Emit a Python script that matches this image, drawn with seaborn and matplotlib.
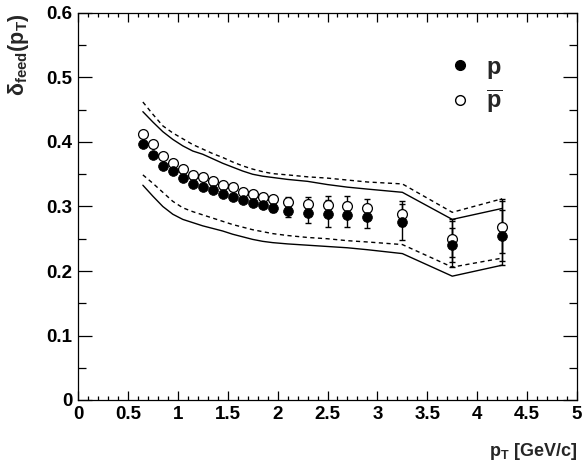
import matplotlib
matplotlib.use("Agg")
import matplotlib.pyplot as plt
import seaborn as sns
import numpy as np
import pandas as pd
from matplotlib.ticker import MultipleLocator, FuncFormatter
from matplotlib.lines import Line2D

# pT bin centres
pt = [0.65, 0.75, 0.85, 0.95, 1.05, 1.15, 1.25, 1.35, 1.45, 1.55, 1.65,
      1.75, 1.85, 1.95, 2.1, 2.3, 2.5, 2.7, 2.9, 3.25, 3.75, 4.25]

# delta_feed for protons (filled) and antiprotons (open)
p_val = [0.397, 0.380, 0.363, 0.355, 0.344, 0.335, 0.330, 0.326, 0.320, 0.315, 0.310,
         0.305, 0.302, 0.298, 0.293, 0.290, 0.289, 0.2875, 0.284, 0.276, 0.240, 0.255]
p_err = [0, 0, 0, 0, 0, 0, 0, 0, 0, 0, 0.003,
         0.004, 0.005, 0.006, 0.010, 0.016, 0.021, 0.020, 0.018, 0.028, 0.026, 0.040]
pbar_val = [0.413, 0.397, 0.379, 0.368, 0.358, 0.349, 0.345, 0.340, 0.334, 0.330, 0.323,
            0.319, 0.315, 0.312, 0.307, 0.304, 0.302, 0.301, 0.298, 0.289, 0.249, 0.268]
pbar_err = [0, 0, 0, 0, 0, 0, 0, 0, 0, 0, 0.003,
            0.004, 0.005, 0.005, 0.007, 0.010, 0.015, 0.015, 0.013, 0.020, 0.028, 0.040]

# systematic bands
up_dash = [0.462, 0.443, 0.425, 0.414, 0.405, 0.396, 0.389, 0.382, 0.376, 0.369, 0.363,
           0.358, 0.354, 0.351, 0.349, 0.346, 0.344, 0.341, 0.338, 0.335, 0.291, 0.312]
up_solid = [0.447, 0.431, 0.416, 0.404, 0.394, 0.386, 0.381, 0.374, 0.367, 0.361, 0.355,
            0.350, 0.347, 0.345, 0.342, 0.339, 0.334, 0.330, 0.327, 0.322, 0.280, 0.297]
lo_dash = [0.349, 0.336, 0.322, 0.308, 0.298, 0.292, 0.287, 0.282, 0.277, 0.272, 0.268,
           0.264, 0.261, 0.258, 0.255, 0.252, 0.250, 0.247, 0.245, 0.241, 0.206, 0.220]
lo_solid = [0.333, 0.316, 0.300, 0.288, 0.280, 0.275, 0.270, 0.266, 0.262, 0.257, 0.253,
            0.249, 0.246, 0.244, 0.242, 0.240, 0.238, 0.236, 0.233, 0.227, 0.192, 0.209]

# vertical band edges at the last bins
edge_x = [3.75, 4.25]
edge_lo = [0.206, 0.209]
edge_hi = [0.280, 0.312]

sns.set_theme(style="ticks")
plt.rcParams["font.family"] = ["Liberation Sans", "DejaVu Sans"]
plt.rcParams["font.weight"] = "bold"
plt.rcParams["mathtext.fontset"] = "custom"
plt.rcParams["mathtext.rm"] = "Liberation Sans:bold"
plt.rcParams["mathtext.it"] = "Liberation Sans:bold"
plt.rcParams["mathtext.bf"] = "Liberation Sans:bold"

df = pd.DataFrame({"pt": pt, "p": p_val, "pbar": pbar_val,
                   "up_dash": up_dash, "up_solid": up_solid,
                   "lo_dash": lo_dash, "lo_solid": lo_solid})

fig = plt.figure(figsize=(5.84, 4.70), dpi=100)
ax = fig.add_axes([78/584, 70/470, 499/584, 387/470])

for col in ["up_solid", "lo_solid"]:
    sns.lineplot(data=df, x="pt", y=col, ax=ax, color="black", lw=1.0)
for col in ["up_dash", "lo_dash"]:
    sns.lineplot(data=df, x="pt", y=col, ax=ax, color="black", lw=1.0, linestyle=(0, (3, 2.5)))

mid = [(a + b) / 2 for a, b in zip(edge_lo, edge_hi)]
half = [(b - a) / 2 for a, b in zip(edge_lo, edge_hi)]
ax.errorbar(edge_x, mid, yerr=half, fmt="none", ecolor="black", elinewidth=1.0, capsize=2)

ax.errorbar(pt, pbar_val, yerr=pbar_err, fmt="none", ecolor="black", elinewidth=1.0, capsize=2)
ax.errorbar(pt, p_val, yerr=p_err, fmt="none", ecolor="black", elinewidth=1.0, capsize=2)

sns.scatterplot(data=df, x="pt", y="pbar", ax=ax, marker="o", s=50,
                facecolor="white", edgecolor="black", linewidth=0.9, zorder=5)
sns.scatterplot(data=df, x="pt", y="p", ax=ax, marker="o", s=50,
                color="black", edgecolor="black", linewidth=0.5, zorder=6)

ax.set_xlim(0, 5)
ax.set_ylim(0, 0.6)
ax.xaxis.set_major_locator(MultipleLocator(0.5))
ax.xaxis.set_minor_locator(MultipleLocator(0.1))
ax.yaxis.set_major_locator(MultipleLocator(0.1))
ax.yaxis.set_minor_locator(MultipleLocator(0.05))
fmt = FuncFormatter(lambda v, pos: "%g" % round(v, 2))
ax.xaxis.set_major_formatter(fmt)
ax.yaxis.set_major_formatter(fmt)

ax.tick_params(which="both", direction="in", top=True, right=True, colors="black", width=0.9)
ax.tick_params(axis="x", which="major", length=6.5, labelsize=13.5, pad=4)
ax.tick_params(axis="x", which="minor", length=3.2)
ax.tick_params(axis="y", which="major", length=10, labelsize=13.5, pad=4)
ax.tick_params(axis="y", which="minor", length=5.5)
for lab in ax.get_xticklabels() + ax.get_yticklabels():
    lab.set_fontweight("bold")
for sp in ax.spines.values():
    sp.set_color("black")
    sp.set_linewidth(0.9)

ax.set_xlabel(r"$\mathbf{p_T}$ [GeV/c]", fontsize=13, fontweight="bold", loc="right")
ax.xaxis.set_label_coords(1.0, -0.105)
ax.set_ylabel(r"$\delta_{\mathbf{feed}}\mathbf{(p_T)}$", fontsize=15.5, loc="top")
ax.yaxis.set_label_coords(-0.095, 1.0)

handles = [Line2D([], [], marker="o", ls="none", color="black", markersize=7),
           Line2D([], [], marker="o", ls="none", markerfacecolor="white",
                  markeredgecolor="black", markersize=7)]
ax.legend(handles, [r"$\mathbf{p}$", r"$\overline{\mathbf{p}}$"], loc="upper left",
          bbox_to_anchor=(0.70, 0.945), frameon=False, fontsize=17, handletextpad=0.6,
          labelspacing=0.3, handlelength=1.0)

fig.savefig("out.png", dpi=100)
